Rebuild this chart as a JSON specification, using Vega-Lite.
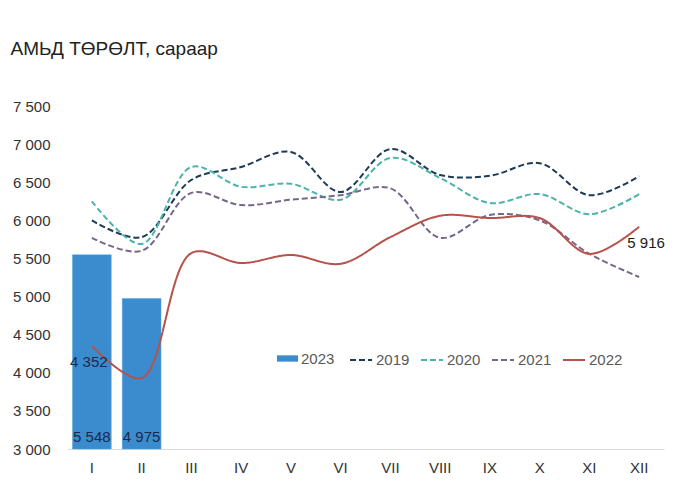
{
  "$schema": "https://vega.github.io/schema/vega-lite/v6.json",
  "width": 597,
  "height": 343,
  "autosize": {"type": "none"},
  "padding": {"left": 67, "top": 106, "right": 36, "bottom": 51},
  "background": "white",
  "config": {
    "view": {"stroke": null},
    "font": "Liberation Sans"
  },
  "title": {
    "text": "АМЬД ТӨРӨЛТ, сараар",
    "anchor": "start",
    "dx": -2,
    "offset": 40,
    "fontSize": 19,
    "fontWeight": "normal",
    "color": "#222222",
    "font": "Liberation Sans"
  },
  "datasets": {
    "bars": [
      {"month": "I", "series": "2023", "value": 5548},
      {"month": "II", "series": "2023", "value": 4975}
    ],
    "lines": [
      {"month": "I", "series": "2019", "value": 6000},
      {"month": "II", "series": "2019", "value": 5780},
      {"month": "III", "series": "2019", "value": 6530},
      {"month": "IV", "series": "2019", "value": 6700},
      {"month": "V", "series": "2019", "value": 6897},
      {"month": "VI", "series": "2019", "value": 6372},
      {"month": "VII", "series": "2019", "value": 6936},
      {"month": "VIII", "series": "2019", "value": 6595},
      {"month": "IX", "series": "2019", "value": 6585},
      {"month": "X", "series": "2019", "value": 6750},
      {"month": "XI", "series": "2019", "value": 6330},
      {"month": "XII", "series": "2019", "value": 6580},
      {"month": "I", "series": "2020", "value": 6250},
      {"month": "II", "series": "2020", "value": 5690},
      {"month": "III", "series": "2020", "value": 6700},
      {"month": "IV", "series": "2020", "value": 6440},
      {"month": "V", "series": "2020", "value": 6480},
      {"month": "VI", "series": "2020", "value": 6270},
      {"month": "VII", "series": "2020", "value": 6818},
      {"month": "VIII", "series": "2020", "value": 6556},
      {"month": "IX", "series": "2020", "value": 6227},
      {"month": "X", "series": "2020", "value": 6345},
      {"month": "XI", "series": "2020", "value": 6080},
      {"month": "XII", "series": "2020", "value": 6345},
      {"month": "I", "series": "2021", "value": 5770},
      {"month": "II", "series": "2021", "value": 5600},
      {"month": "III", "series": "2021", "value": 6360},
      {"month": "IV", "series": "2021", "value": 6200},
      {"month": "V", "series": "2021", "value": 6270},
      {"month": "VI", "series": "2021", "value": 6330},
      {"month": "VII", "series": "2021", "value": 6420},
      {"month": "VIII", "series": "2021", "value": 5770},
      {"month": "IX", "series": "2021", "value": 6070},
      {"month": "X", "series": "2021", "value": 6000},
      {"month": "XI", "series": "2021", "value": 5560},
      {"month": "XII", "series": "2021", "value": 5257},
      {"month": "I", "series": "2022", "value": 4352},
      {"month": "II", "series": "2022", "value": 3930},
      {"month": "III", "series": "2022", "value": 5570},
      {"month": "IV", "series": "2022", "value": 5440},
      {"month": "V", "series": "2022", "value": 5545},
      {"month": "VI", "series": "2022", "value": 5430},
      {"month": "VII", "series": "2022", "value": 5780},
      {"month": "VIII", "series": "2022", "value": 6060},
      {"month": "IX", "series": "2022", "value": 6030},
      {"month": "X", "series": "2022", "value": 6030},
      {"month": "XI", "series": "2022", "value": 5560},
      {"month": "XII", "series": "2022", "value": 5916}
    ]
  },
  "encoding": {
    "x": {
      "field": "month",
      "type": "ordinal",
      "sort": ["I","II","III","IV","V","VI","VII","VIII","IX","X","XI","XII"],
      "scale": {"domain": ["I","II","III","IV","V","VI","VII","VIII","IX","X","XI","XII"], "paddingInner": 0.22, "paddingOuter": 0.11},
      "axis": {
        "title": null,
        "labelAngle": 0,
        "ticks": false,
        "domainColor": "#d9d9d9",
        "domainWidth": 1,
        "labelPadding": 11,
        "labelFontSize": 15,
        "labelColor": "#333333",
        "grid": false
      }
    },
    "y": {
      "field": "value",
      "type": "quantitative",
      "scale": {"domain": [3000, 7500], "nice": false, "zero": false},
      "axis": {
        "title": null,
        "values": [3000,3500,4000,4500,5000,5500,6000,6500,7000,7500],
        "labelExpr": "replace(format(datum.value, ','), ',', ' ')",
        "domain": false,
        "ticks": false,
        "grid": false,
        "labelPadding": 17,
        "labelFontSize": 15,
        "labelColor": "#333333"
      }
    }
  },
  "layer": [
    {
      "data": {"name": "bars"},
      "mark": {"type": "bar", "stroke": "#5aa6dc", "strokeWidth": 0.5},
      "encoding": {
        "y2": {"datum": 3000},
        "fill": {
          "field": "series",
          "type": "nominal",
          "scale": {"domain": ["2023"], "range": ["#3a8ccf"]},
          "legend": {
            "title": null,
            "orient": "none",
            "legendX": 210,
            "legendY": 242,
            "direction": "horizontal",
            "symbolType": "M-1,-0.3H1V0.3H-1Z",
            "symbolSize": 441,
            "symbolStrokeWidth": 0,
            "labelFontSize": 15,
            "labelColor": "#595959",
            "labelOffset": 3
          }
        }
      }
    },
    {
      "data": {"name": "lines"},
      "mark": {"type": "line", "interpolate": "catmull-rom", "strokeWidth": 2},
      "encoding": {
        "stroke": {
          "field": "series",
          "type": "nominal",
          "scale": {"domain": ["2019","2020","2021","2022"], "range": ["#1d3a56","#4db3aa","#76678a","#b5524a"]},
          "legend": {
            "title": null,
            "orient": "none",
            "legendX": 282,
            "legendY": 242,
            "direction": "horizontal",
            "symbolType": "stroke",
            "symbolSize": 484,
            "symbolStrokeWidth": 2,
            "labelFontSize": 15,
            "labelColor": "#595959",
            "labelOffset": 3,
            "columnPadding": 7
          }
        },
        "strokeDash": {
          "field": "series",
          "type": "nominal",
          "scale": {"domain": ["2019","2020","2021","2022"], "range": [[6,3],[6,3],[6,3],[1,0]]},
          "legend": null
        }
      }
    },
    {
      "data": {"name": "bars"},
      "transform": [{"calculate": "replace(format(datum.value, ','), ',', ' ')", "as": "label"}],
      "mark": {"type": "text", "baseline": "bottom", "dy": -4, "fontSize": 15, "color": "#1a2a4a"},
      "encoding": {
        "y": {"datum": 3000},
        "text": {"field": "label"}
      }
    },
    {
      "data": {"name": "lines"},
      "transform": [
        {"filter": "datum.series == '2022' && datum.month == 'I'"},
        {"calculate": "replace(format(datum.value, ','), ',', ' ')", "as": "label"}
      ],
      "mark": {"type": "text", "baseline": "middle", "dx": -3, "dy": 16, "fontSize": 15, "color": "#1a2a4a"},
      "encoding": {"text": {"field": "label"}}
    },
    {
      "data": {"name": "lines"},
      "transform": [
        {"filter": "datum.series == '2022' && datum.month == 'XII'"},
        {"calculate": "replace(format(datum.value, ','), ',', ' ')", "as": "label"}
      ],
      "mark": {"type": "text", "baseline": "middle", "dx": 7, "dy": 16, "fontSize": 15, "color": "#1a1a1a"},
      "encoding": {"text": {"field": "label"}}
    }
  ]
}
